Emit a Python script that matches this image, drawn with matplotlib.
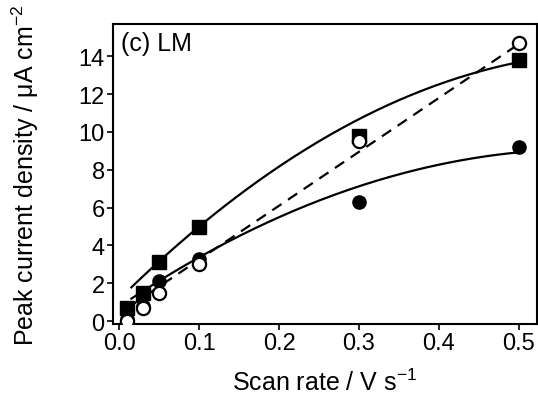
import numpy as np
import matplotlib
matplotlib.use("Agg")
import matplotlib.pyplot as plt

plt.rcParams['font.family'] = ['Liberation Sans', 'DejaVu Sans']
plt.rcParams['mathtext.fontset'] = 'custom'
plt.rcParams['mathtext.rm'] = 'Liberation Sans'
plt.rcParams['mathtext.it'] = 'Liberation Sans:italic'
plt.rcParams['mathtext.bf'] = 'Liberation Sans:bold'

# measured data
scan_rate = [0.01, 0.03, 0.05, 0.1, 0.3, 0.5]
squares = [0.7, 1.5, 3.1, 5.0, 9.8, 13.8]
filled_circles = [0.1, 0.8, 2.1, 3.3, 6.3, 9.2]
open_circles = [0.0, 0.7, 1.5, 3.0, 9.5, 14.7]
# fitted curves shown in the figure (polynomial coefficients, highest power first)
fit_squares = [-33.25, 41.65, 1.17]
fit_filled = [-24.4, 28.5, 0.77]
fit_open = [28.45, 0.41]
xticks = [0.0, 0.1, 0.2, 0.3, 0.4, 0.5]
yticks = [0, 2, 4, 6, 8, 10, 12, 14]

fig = plt.figure(figsize=(5.38, 4.02), dpi=100)
ax = fig.add_axes([113/538, 1-325/402, (537-113)/538, (325-25)/402])

x = np.array(scan_rate)
xf = np.linspace(0.015, max(scan_rate), 200)
ax.plot(xf, np.polyval(fit_squares, xf), color='black', lw=1.6, zorder=2)
ax.plot(xf, np.polyval(fit_filled, xf), color='black', lw=1.6, zorder=2)
ax.plot(xf, np.polyval(fit_open, xf), color='black', lw=1.6, ls=(0, (5, 3.5)), zorder=2)

ax.plot(x, squares, 's', color='black', ms=9.5, zorder=3)
ax.plot(x, filled_circles, 'o', color='black', ms=9.5, zorder=3)
ax.plot(x, open_circles, 'o', mfc='white', mec='black', mew=1.6, ms=9.5, zorder=4)

ax.set_xlim(-0.008, 0.523)
ax.set_ylim(-0.15, 15.7)
ax.set_xticks(xticks)
ax.set_xticklabels([f"{t:.1f}" for t in xticks])
ax.set_yticks(yticks)
ax.tick_params(direction='out', length=4, width=1.2, labelsize=17, pad=2)
for s in ax.spines.values():
    s.set_linewidth(1.5)

ax.text(0.02, 0.975, '(c) LM', transform=ax.transAxes, ha='left', va='top', fontsize=18)
ax.set_xlabel('Scan rate / V s$^{-1}$', fontsize=18, labelpad=10)
ax.set_ylabel('Peak current density / μA cm$^{-2}$', fontsize=18, labelpad=27)

fig.savefig('out.png', dpi=100)
